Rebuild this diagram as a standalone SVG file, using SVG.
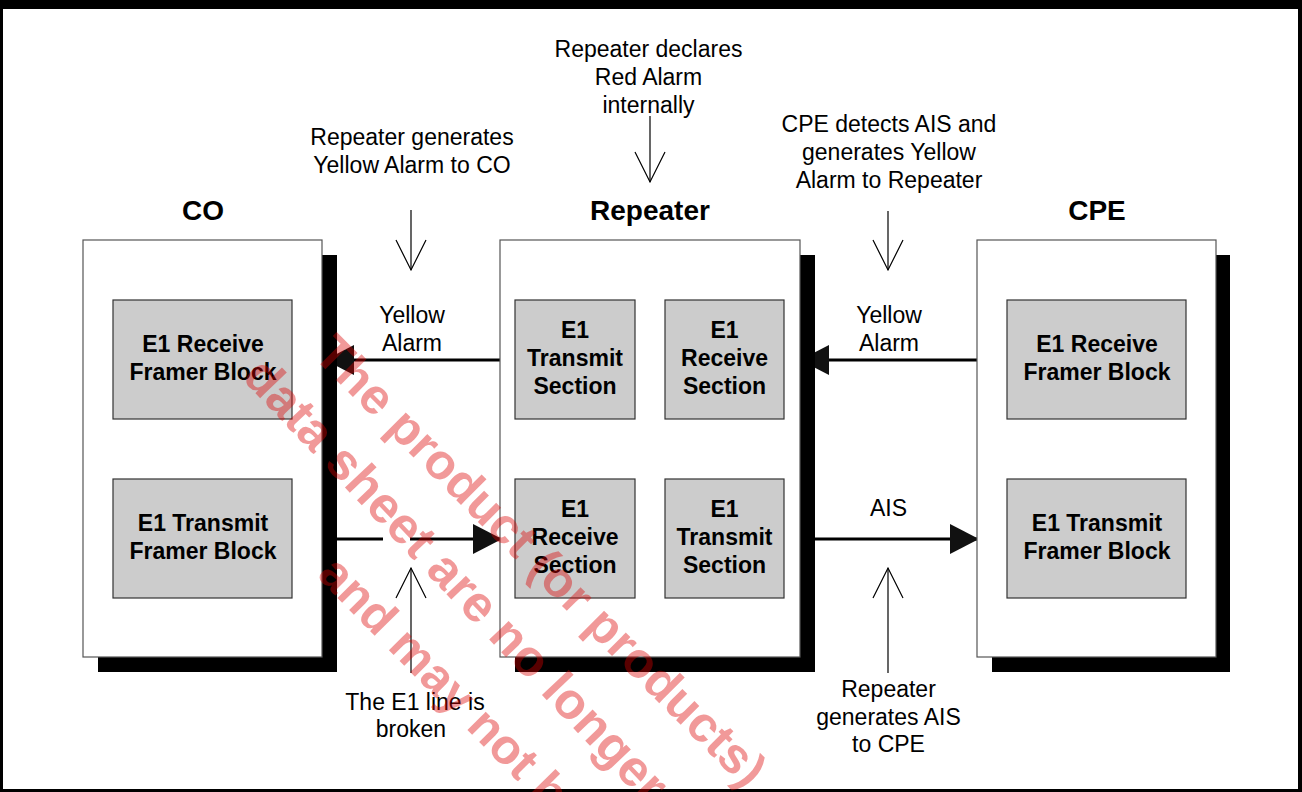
<svg xmlns="http://www.w3.org/2000/svg" width="1302" height="792" viewBox="0 0 1302 792">
<style>
text{font-family:"Liberation Sans",Arial,sans-serif;}
.lbl{font-size:23px;fill:#000;text-anchor:middle;}
.ttl{font-size:28px;font-weight:bold;fill:#000;text-anchor:middle;}
.blt{font-size:23px;font-weight:bold;fill:#000;text-anchor:middle;}
.box{fill:#fff;stroke:#555;stroke-width:1.2;}
.shadow{fill:#000;}
.blk{fill:#cccccc;stroke:#333;stroke-width:1.2;}
.thick{stroke:#000;stroke-width:3;fill:none;}
.thin{stroke:#000;stroke-width:1.2;fill:none;}
.wm{font-weight:bold;fill:#dc0000;fill-opacity:0.4;}
</style>
<defs>
<marker id="solid" markerUnits="userSpaceOnUse" markerWidth="30" markerHeight="30" refX="29" refY="15" orient="auto" viewBox="0 0 30 30">
<path d="M0,0 L29,15 L0,30 Z" fill="#111"/>
</marker>
<marker id="open" markerUnits="userSpaceOnUse" markerWidth="32" markerHeight="32" refX="30" refY="15" orient="auto" viewBox="0 0 32 32" overflow="visible">
<path d="M0,0 L30,15 L0,30" fill="none" stroke="#000" stroke-width="1.2"/>
</marker>
</defs>
<rect x="0" y="0" width="1302" height="792" fill="#fff"/>
<g id="frame">
<rect x="0" y="0" width="1302" height="9" fill="#000"/>
<rect x="0" y="0" width="3" height="792" fill="#000"/>
<rect x="1298" y="0" width="4" height="792" fill="#000"/>
<rect x="0" y="789" width="1302" height="3" fill="#000"/>
</g>
<g id="connectors">
<line class="thick" x1="500" y1="360" x2="325" y2="360" marker-end="url(#solid)"/>
<line class="thick" x1="979" y1="360" x2="800" y2="360" marker-end="url(#solid)"/>
<line class="thick" x1="320" y1="539" x2="383" y2="539"/>
<line class="thick" x1="410" y1="539" x2="502" y2="539" marker-end="url(#solid)"/>
<line class="thick" x1="798" y1="539" x2="979" y2="539" marker-end="url(#solid)"/>
<line class="thin" x1="411" y1="210" x2="411" y2="270" marker-end="url(#open)"/>
<line class="thin" x1="650" y1="116" x2="650" y2="182" marker-end="url(#open)"/>
<line class="thin" x1="888" y1="211" x2="888" y2="270" marker-end="url(#open)"/>
<line class="thin" x1="411" y1="673" x2="411" y2="568" marker-end="url(#open)"/>
<line class="thin" x1="888" y1="673" x2="888" y2="568" marker-end="url(#open)"/>
</g>
<g id="co">
<rect class="shadow" x="98" y="255" width="239" height="417"/>
<rect class="box" x="83" y="240" width="239" height="417"/>
<text class="ttl" x="203" y="220">CO</text>
</g>
<g id="co-rx">
<rect class="blk" x="113" y="300" width="179" height="119"/>
<text class="blt" x="203" y="352">E1 Receive</text>
<text class="blt" x="203" y="380">Framer Block</text>
</g>
<g id="co-tx">
<rect class="blk" x="113" y="479" width="179" height="119"/>
<text class="blt" x="203" y="531">E1 Transmit</text>
<text class="blt" x="203" y="559">Framer Block</text>
</g>
<g id="repeater">
<rect class="shadow" x="515" y="255" width="300" height="417"/>
<rect class="box" x="500" y="240" width="300" height="417"/>
<text class="ttl" x="650" y="220">Repeater</text>
</g>
<g id="rep-tx1">
<rect class="blk" x="515" y="300" width="120" height="119"/>
<text class="blt" x="575" y="338">E1</text>
<text class="blt" x="575" y="366">Transmit</text>
<text class="blt" x="575" y="394">Section</text>
</g>
<g id="rep-rx1">
<rect class="blk" x="665" y="300" width="119" height="119"/>
<text class="blt" x="724.5" y="338">E1</text>
<text class="blt" x="724.5" y="366">Receive</text>
<text class="blt" x="724.5" y="394">Section</text>
</g>
<g id="rep-rx2">
<rect class="blk" x="515" y="479" width="120" height="119"/>
<text class="blt" x="575" y="517">E1</text>
<text class="blt" x="575" y="545">Receive</text>
<text class="blt" x="575" y="573">Section</text>
</g>
<g id="rep-tx2">
<rect class="blk" x="665" y="479" width="119" height="119"/>
<text class="blt" x="724.5" y="517">E1</text>
<text class="blt" x="724.5" y="545">Transmit</text>
<text class="blt" x="724.5" y="573">Section</text>
</g>
<g id="cpe">
<rect class="shadow" x="992" y="255" width="238" height="417"/>
<rect class="box" x="977" y="240" width="239" height="417"/>
<text class="ttl" x="1097" y="220">CPE</text>
</g>
<g id="cpe-rx">
<rect class="blk" x="1007" y="300" width="179" height="119"/>
<text class="blt" x="1097" y="352">E1 Receive</text>
<text class="blt" x="1097" y="380">Framer Block</text>
</g>
<g id="cpe-tx">
<rect class="blk" x="1007" y="479" width="179" height="119"/>
<text class="blt" x="1097" y="531">E1 Transmit</text>
<text class="blt" x="1097" y="559">Framer Block</text>
</g>
<g id="labels">
<text class="lbl" x="648.5" y="57">Repeater declares</text>
<text class="lbl" x="648.5" y="85">Red Alarm</text>
<text class="lbl" x="648.5" y="113">internally</text>
<text class="lbl" x="412" y="145">Repeater generates</text>
<text class="lbl" x="412" y="173">Yellow Alarm to CO</text>
<text class="lbl" x="889" y="131.5">CPE detects AIS and</text>
<text class="lbl" x="889" y="159.5">generates Yellow</text>
<text class="lbl" x="889" y="187.5">Alarm to Repeater</text>
<text class="lbl" x="412" y="323">Yellow</text>
<text class="lbl" x="412" y="351">Alarm</text>
<text class="lbl" x="889" y="323">Yellow</text>
<text class="lbl" x="889" y="351">Alarm</text>
<text class="lbl" x="888.5" y="516">AIS</text>
<text class="lbl" x="415" y="710">The E1 line is</text>
<text class="lbl" x="411" y="737">broken</text>
<text class="lbl" x="888.5" y="697">Repeater</text>
<text class="lbl" x="888.5" y="724.5">generates AIS</text>
<text class="lbl" x="888.5" y="752">to CPE</text>
</g>
<g id="watermark">
<text class="wm" font-size="50" transform="translate(312,356) rotate(45)">The product (or products)</text>
<text class="wm" font-size="51" transform="translate(241,378) rotate(46.5)">data sheet are no longer</text>
<text class="wm" font-size="49" transform="translate(316,576) rotate(45.5)">and may not b</text>
</g>
</svg>
